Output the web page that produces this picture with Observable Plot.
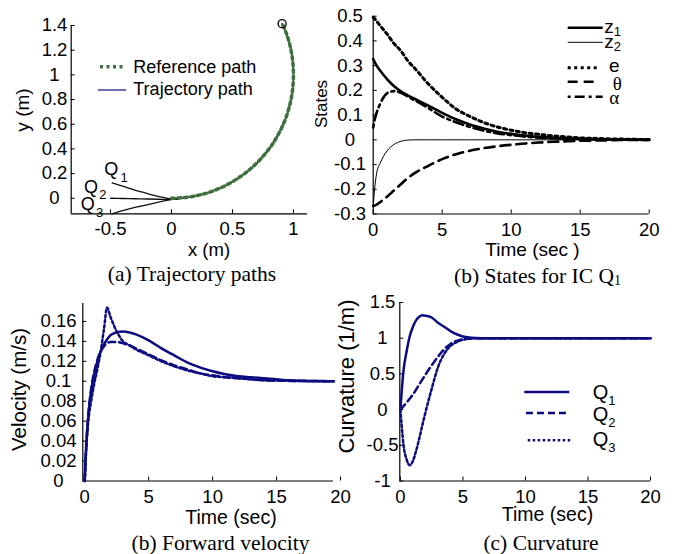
<!DOCTYPE html>
<html><head><meta charset="utf-8">
<script src="https://cdn.jsdelivr.net/npm/d3@7"></script>
<script src="https://cdn.jsdelivr.net/npm/@observablehq/plot@0.6"></script>
<style>
body{margin:0;background:#fff;}
#fig{position:relative;width:692px;height:554px;overflow:hidden;background:#fff;}
#fig svg{position:absolute;left:0;top:0;}
</style></head><body><div id="fig"></div>
<script>
// ---------- Panel (a): trajectory paths ----------
const refX = [0, 0.1, 0.2, 0.3, 0.4, 0.5, 0.6, 0.7, 0.8, 0.87, 0.93, 0.97, 0.99, 1.0, 0.99, 0.97, 0.94, 0.907];
const refY = [0, 0.005, 0.02, 0.045, 0.083, 0.134, 0.2, 0.286, 0.4, 0.507, 0.632, 0.757, 0.859, 1.0, 1.141, 1.243, 1.341, 1.415];
const q1X = [-0.486, -0.4, -0.3, -0.227, -0.15, -0.08, 0, 0.05, 0.1];
const q1Y = [0.125, 0.098, 0.066, 0.047, 0.026, 0.01, -0.006, -0.003, 0.005];
const q2X = [-0.5, -0.4, -0.3, -0.2, -0.1, 0, 0.05, 0.1];
const q2Y = [0.0, -0.002, -0.004, -0.006, -0.008, -0.009, -0.004, 0.005];
const q3X = [-0.49, -0.4, -0.3, -0.227, -0.15, -0.08, 0, 0.05, 0.1];
const q3Y = [-0.127, -0.1, -0.074, -0.059, -0.042, -0.026, -0.011, -0.004, 0.005];
const aXTicks = [-0.5, 0, 0.5, 1];
const aYTicks = [0, 0.2, 0.4, 0.6, 0.8, 1, 1.2, 1.4];

// ---------- Panel (b): states for IC Q1 ----------
const tB = [0, 0.1, 0.25, 0.5, 0.75, 1, 1.5, 2, 2.5, 3, 4, 5, 6, 7, 8, 9, 10, 11, 12, 13, 14, 15, 16, 17, 18, 19, 20];
const z1 = [0.327, 0.315, 0.300, 0.280, 0.262, 0.246, 0.218, 0.196, 0.180, 0.166, 0.138, 0.109, 0.083, 0.062, 0.046, 0.033, 0.024, 0.017, 0.012, 0.008, 0.006, 0.004, 0.003, 0.002, 0.001, 0.001, 0];
const z2 = [-0.27, -0.20, -0.135, -0.095, -0.066, -0.045, -0.019, -0.006, -0.001, 0, 0, 0, 0, 0, 0, 0, 0, 0, 0, 0, 0, 0, 0, 0, 0, 0, 0];
const eS = [0.495, 0.49, 0.48, 0.462, 0.445, 0.428, 0.39, 0.36, 0.32, 0.29, 0.226, 0.172, 0.125, 0.095, 0.07, 0.052, 0.039, 0.029, 0.022, 0.016, 0.012, 0.008, 0.006, 0.004, 0.003, 0.002, 0.001];
const thetaS = [-0.268, -0.266, -0.262, -0.252, -0.241, -0.230, -0.205, -0.180, -0.155, -0.135, -0.105, -0.078, -0.058, -0.044, -0.034, -0.026, -0.020, -0.015, -0.011, -0.008, -0.006, -0.004, -0.003, -0.002, -0.001, -0.001, 0];
const alphaS = [0.05, 0.08, 0.11, 0.145, 0.172, 0.188, 0.197, 0.19, 0.175, 0.160, 0.128, 0.094, 0.071, 0.052, 0.037, 0.026, 0.019, 0.013, 0.009, 0.006, 0.004, 0.003, 0.002, 0.001, 0.001, 0, 0];
const bXTicks = [0, 5, 10, 15, 20];
const bYTicks = [-0.3, -0.2, -0.1, 0, 0.1, 0.2, 0.3, 0.4, 0.5];

// ---------- Panel (c): forward velocity ----------
const tC = [0, 0.1, 0.25, 0.5, 0.75, 1, 1.25, 1.5, 1.75, 2, 2.5, 3, 3.5, 4, 5, 6, 7, 8, 9, 10, 11, 12, 13, 14, 15, 16, 17, 18, 19, 19.45];
const vQ1 = [0, 0.03, 0.06, 0.09, 0.107, 0.12, 0.13, 0.137, 0.142, 0.146, 0.149, 0.150, 0.149, 0.147, 0.141, 0.133, 0.126, 0.119, 0.114, 0.110, 0.107, 0.105, 0.104, 0.103, 0.102, 0.101, 0.1005, 0.1003, 0.1001, 0.1];
const vQ2 = [0, 0.032, 0.062, 0.092, 0.11, 0.122, 0.13, 0.135, 0.138, 0.1395, 0.1395, 0.138, 0.136, 0.133, 0.127, 0.121, 0.116, 0.112, 0.108, 0.106, 0.104, 0.103, 0.102, 0.101, 0.1008, 0.1005, 0.1003, 0.1002, 0.1001, 0.1];
const vQ3 = [0, 0.028, 0.056, 0.08, 0.098, 0.113, 0.13, 0.152, 0.174, 0.165, 0.150, 0.140, 0.136, 0.132, 0.126, 0.120, 0.115, 0.111, 0.108, 0.105, 0.104, 0.103, 0.102, 0.101, 0.1007, 0.1004, 0.1002, 0.1001, 0.1, 0.1];
const cXTicks = [0, 5, 10, 15, 20];
const cYTicks = [0, 0.02, 0.04, 0.06, 0.08, 0.1, 0.12, 0.14, 0.16];

// ---------- Panel (d): curvature ----------
const tD = [0, 0.1, 0.25, 0.5, 0.75, 1, 1.25, 1.5, 1.75, 2, 2.5, 3, 3.5, 4, 4.5, 5, 5.5, 6, 7, 8, 10, 12, 14, 16, 18, 20];
const kQ1 = [0, 0.25, 0.55, 0.82, 1.03, 1.16, 1.25, 1.3, 1.32, 1.315, 1.29, 1.215, 1.16, 1.10, 1.055, 1.025, 1.01, 1.004, 1.0, 1.0, 1.0, 1.0, 1.0, 1.0, 1.0, 1.0];
const kQ2 = [0, 0.02, 0.05, 0.1, 0.155, 0.21, 0.28, 0.35, 0.42, 0.49, 0.62, 0.74, 0.845, 0.92, 0.963, 0.985, 0.996, 1.0, 1.0, 1.0, 1.0, 1.0, 1.0, 1.0, 1.0, 1.0];
const kQ3 = [0, -0.22, -0.5, -0.7, -0.78, -0.72, -0.58, -0.41, -0.22, -0.04, 0.29, 0.59, 0.78, 0.89, 0.945, 0.978, 0.993, 1.0, 1.0, 1.0, 1.0, 1.0, 1.0, 1.0, 1.0, 1.0];
const dXTicks = [0, 5, 10, 15, 20];
const dYTicks = [-1, -0.5, 0, 0.5, 1, 1.5];

const NAVY = "#0c0c80";
const GREEN = "#3f703f";
const SANS = "Liberation Sans, Arial, Helvetica, sans-serif";
const SERIF = "Liberation Serif, Times New Roman, serif";
const fig = document.getElementById("fig");
const fmt = d => String(d);

function panel(o) {
  return Plot.plot({
    width: 692, height: 554,
    marginLeft: o.m[0], marginTop: o.m[1], marginRight: 692 - o.m[2], marginBottom: 554 - o.m[3],
    x: {domain: o.xd}, y: {domain: o.yd},
    style: {background: "none", fontFamily: SANS, fontSize: "18.5px", color: "black", overflow: "visible"},
    marks: [
      Plot.ruleY([o.yd[0]], {stroke: "black", strokeWidth: 1.2}),
      Plot.ruleX([o.xd[0]], {stroke: "black", strokeWidth: 1.2}),
      Plot.axisX(o.xt, {tickSize: -4, tickPadding: 12.5, tickFormat: fmt, label: null, fontSize: 18.5}),
      Plot.axisY(o.yt, {tickSize: -4, tickPadding: o.yPad, textAnchor: "middle", tickFormat: fmt, label: null, fontSize: 18.5}),
      ...o.marks
    ]
  });
}

const lineT = (t, v, opts) => Plot.line(t, {x: t, y: v, curve: "monotone-x", ...opts});
const lineXY = (xs, ys, opts) => Plot.line(xs, {x: xs, y: ys, curve: "catmull-rom", ...opts});
const qText = (xs, ys, txt, dx, dy, size) => Plot.text([0], {x: i => xs[i], y: i => ys[i], text: () => txt, dx, dy, fontSize: size, fill: "black", fontFamily: SANS});

const pa = panel({
  m: [70.7, 25, 307, 213.3], xd: [-0.822, 1.115], yd: [-0.126, 1.4],
  xt: aXTicks, yt: aYTicks, yPad: 20.7,
  marks: [
    lineXY(q1X, q1Y, {stroke: "#111", strokeWidth: 1.3}),
    lineXY(q2X, q2Y, {stroke: "#111", strokeWidth: 1.3}),
    lineXY(q3X, q3Y, {stroke: "#111", strokeWidth: 1.3}),
    lineXY(refX, refY, {stroke: "#111", strokeWidth: 1.3}),
    lineXY(refX, refY, {stroke: GREEN, strokeWidth: 3.5, strokeDasharray: "3,3.5"}),
    Plot.dot([refX.length - 1], {x: i => refX[i], y: i => refY[i], r: 4, stroke: "black", fill: "none", strokeWidth: 1.3}),
    qText(q1X, q1Y, "Q", -1, -14, 18), qText(q1X, q1Y, "1", 12, -5, 13),
    qText(q2X, q2Y, "Q", -19.5, -11, 18), qText(q2X, q2Y, "2", -7.5, -3, 13),
    qText(q3X, q3Y, "Q", -24, -10, 18), qText(q3X, q3Y, "3", -12, -1, 13)
  ]
});

const pb = panel({
  m: [372.7, 15.7, 648.7, 213.5], xd: [0, 20], yd: [-0.3, 0.5],
  xt: bXTicks, yt: bYTicks, yPad: 27.2,
  marks: [
    lineT(tB, z2, {stroke: "black", strokeWidth: 1}),
    lineT(tB, thetaS, {stroke: "black", strokeWidth: 2.6, strokeDasharray: "10,6"}),
    lineT(tB, eS, {stroke: "black", strokeWidth: 3, strokeDasharray: "3,3.5"}),
    lineT(tB, alphaS, {stroke: "black", strokeWidth: 2.6, strokeDasharray: "3,4,10,4"}),
    lineT(tB, z1, {stroke: "black", strokeWidth: 2.6})
  ]
});

const pc = panel({
  m: [82.3, 303, 333, 480.5], xd: [-0.15, 19.45], yd: [0, 0.178],
  xt: cXTicks, yt: cYTicks, yPad: 28.3,
  marks: [
    lineT(tC, vQ3, {stroke: NAVY, strokeWidth: 2.5, strokeDasharray: "2.5,2.5"}),
    lineT(tC, vQ2, {stroke: NAVY, strokeWidth: 2.5, strokeDasharray: "7,4"}),
    lineT(tC, vQ1, {stroke: NAVY, strokeWidth: 2.5})
  ]
});

const pd = panel({
  m: [399.3, 302, 650, 480.5], xd: [-0.05, 20], yd: [-1, 1.5],
  xt: dXTicks, yt: dYTicks, yPad: 21.3,
  marks: [
    lineT(tD, kQ3, {stroke: NAVY, strokeWidth: 2.5, strokeDasharray: "2.5,2.5"}),
    lineT(tD, kQ2, {stroke: NAVY, strokeWidth: 2.5, strokeDasharray: "7,4"}),
    lineT(tD, kQ1, {stroke: NAVY, strokeWidth: 2.5})
  ]
});

[pa, pb, pc, pd].forEach(p => fig.appendChild(p));

// ---------- axis titles, legends and captions (overlay) ----------
const ns = "http://www.w3.org/2000/svg";
const ov = document.createElementNS(ns, "svg");
ov.setAttribute("width", 692); ov.setAttribute("height", 554);
ov.innerHTML = `
<g font-family="${SANS}" fill="black" text-anchor="middle">
  <text x="209" y="256" font-size="18.5">x (m)</text>
  <text x="532.5" y="256" font-size="19">Time (sec )</text>
  <text x="231" y="524" font-size="19.5">Time (sec)</text>
  <text x="547.5" y="521" font-size="19.5">Time (sec)</text>
  <text transform="translate(29.3,110) rotate(-90)" font-size="19">y (m)</text>
  <text transform="translate(326.5,104) rotate(-90)" font-size="17">States</text>
  <text transform="translate(25.7,389.5) rotate(-90)" font-size="20.5">Velocity (m/s)</text>
  <text transform="translate(353.7,376.5) rotate(-90)" font-size="22">Curvature (1/m)</text>
</g>
<g font-family="${SANS}" fill="black">
  <line x1="100" x2="125" y1="66.7" y2="66.7" stroke="${GREEN}" stroke-width="3.5" stroke-dasharray="3,3.5"/>
  <text x="133.3" y="73.3" font-size="18">Reference path</text>
  <line x1="98" x2="126" y1="90" y2="90" stroke="${NAVY}" stroke-width="1.2"/>
  <text x="133.3" y="95" font-size="18">Trajectory path</text>

  <line x1="567.7" x2="602.7" y1="27.7" y2="27.7" stroke="black" stroke-width="2.6"/>
  <text x="604.3" y="33.3" font-size="19">z<tspan font-size="13" dy="2.5">1</tspan></text>
  <line x1="567.7" x2="602.7" y1="42.3" y2="42.3" stroke="black" stroke-width="1"/>
  <text x="604.3" y="48.3" font-size="19">z<tspan font-size="13" dy="2.5">2</tspan></text>
  <line x1="567.7" x2="600" y1="67.7" y2="67.7" stroke="black" stroke-width="3" stroke-dasharray="3,3.5"/>
  <text x="609" y="71.7" font-size="19">e</text>
  <line x1="567.7" x2="598" y1="81.7" y2="81.7" stroke="black" stroke-width="2.6" stroke-dasharray="10,6"/>
  <text x="612.7" y="89.5" font-size="19" font-family="${SERIF}">θ</text>
  <line x1="567.7" x2="602.7" y1="96.7" y2="96.7" stroke="black" stroke-width="2.6" stroke-dasharray="3,4,10,4"/>
  <text x="609.3" y="103.5" font-size="19" font-family="${SERIF}">α</text>

  <line x1="524.3" x2="569.3" y1="392" y2="392" stroke="${NAVY}" stroke-width="2.5"/>
  <text x="592.7" y="398.5" font-size="20">Q<tspan font-size="13" dy="6">1</tspan></text>
  <line x1="526" x2="569.3" y1="413" y2="413" stroke="${NAVY}" stroke-width="2.5" stroke-dasharray="7,4"/>
  <text x="592.7" y="421.3" font-size="20">Q<tspan font-size="13" dy="6">2</tspan></text>
  <line x1="527.7" x2="572.7" y1="440.3" y2="440.3" stroke="${NAVY}" stroke-width="2.5" stroke-dasharray="2.5,2.5"/>
  <text x="592.7" y="446" font-size="20">Q<tspan font-size="13" dy="6">3</tspan></text>
</g>
<g font-family="${SERIF}" font-size="21.5" fill="black" text-anchor="middle">
  <text x="192" y="281">(a) Trajectory paths</text>
  <text x="537.5" y="283">(b) States for IC Q<tspan font-size="14" dy="2">1</tspan></text>
  <text x="220.5" y="550">(b) Forward velocity</text>
  <text x="541" y="550">(c) Curvature</text>
</g>`;
fig.appendChild(ov);
</script></body></html>
